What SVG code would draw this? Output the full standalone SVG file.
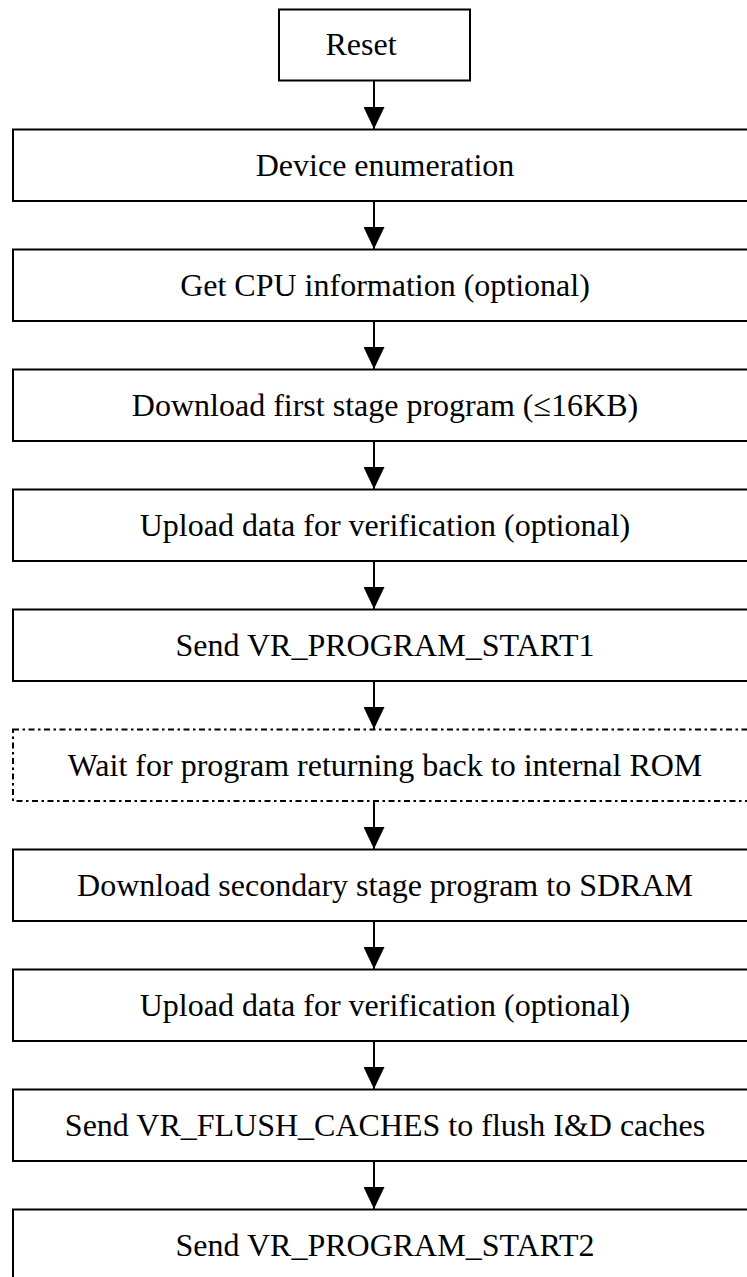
<svg xmlns="http://www.w3.org/2000/svg" width="747" height="1277" viewBox="0 0 747 1277">
<defs>
<style>
.box{fill:#fff;stroke:#000;stroke-width:2}
.dash{fill:#fff;stroke:#000;stroke-width:2;stroke-dasharray:6 3.5 2.5 3.5}
.t{font-family:"Liberation Serif","Times New Roman",serif;font-size:32px;fill:#000;text-anchor:middle}
.c{stroke:#000;stroke-width:2;fill:none}
</style>
<marker id="ah" viewBox="0 0 22 21" refX="22" refY="10.5" markerWidth="22" markerHeight="21" markerUnits="userSpaceOnUse" orient="auto">
<path d="M0,0 L22,10.5 L0,21 Z" fill="#000"/>
</marker>
</defs>
<rect width="747" height="1277" fill="#fff"/>
<g id="connectors">
<line class="c" x1="374" y1="81" x2="374" y2="129" marker-end="url(#ah)"/>
<line class="c" x1="374" y1="201" x2="374" y2="249" marker-end="url(#ah)"/>
<line class="c" x1="374" y1="321" x2="374" y2="369" marker-end="url(#ah)"/>
<line class="c" x1="374" y1="441" x2="374" y2="489" marker-end="url(#ah)"/>
<line class="c" x1="374" y1="561" x2="374" y2="609" marker-end="url(#ah)"/>
<line class="c" x1="374" y1="681" x2="374" y2="729" marker-end="url(#ah)"/>
<line class="c" x1="374" y1="801" x2="374" y2="849" marker-end="url(#ah)"/>
<line class="c" x1="374" y1="921" x2="374" y2="969" marker-end="url(#ah)"/>
<line class="c" x1="374" y1="1041" x2="374" y2="1089" marker-end="url(#ah)"/>
<line class="c" x1="374" y1="1161" x2="374" y2="1209" marker-end="url(#ah)"/>
</g>
<g id="n0"><rect class="box" x="279" y="9.5" width="191" height="71"/><text class="t" x="361" y="55">Reset</text></g>
<g id="n1"><rect class="box" x="13" y="129.5" width="744" height="71.5"/><text class="t" x="385" y="176">Device enumeration</text></g>
<g id="n2"><rect class="box" x="13" y="249.5" width="744" height="71.5"/><text class="t" x="385" y="296">Get CPU information (optional)</text></g>
<g id="n3"><rect class="box" x="13" y="369.5" width="744" height="71.5"/><text class="t" x="385" y="416">Download first stage program (≤16KB)</text></g>
<g id="n4"><rect class="box" x="13" y="489.5" width="744" height="71.5"/><text class="t" x="385" y="536">Upload data for verification (optional)</text></g>
<g id="n5"><rect class="box" x="13" y="609.5" width="744" height="71.5"/><text class="t" x="385" y="656">Send VR_PROGRAM_START1</text></g>
<g id="n6"><rect class="dash" x="13" y="729.5" width="744" height="71.5"/><text class="t" x="385" y="776">Wait for program returning back to internal ROM</text></g>
<g id="n7"><rect class="box" x="13" y="849.5" width="744" height="71.5"/><text class="t" x="385" y="896">Download secondary stage program to SDRAM</text></g>
<g id="n8"><rect class="box" x="13" y="969.5" width="744" height="71.5"/><text class="t" x="385" y="1016">Upload data for verification (optional)</text></g>
<g id="n9"><rect class="box" x="13" y="1089.5" width="744" height="71.5"/><text class="t" x="385" y="1136">Send VR_FLUSH_CACHES to flush I&amp;D caches</text></g>
<g id="n10"><rect class="box" x="13" y="1209.5" width="744" height="90"/><text class="t" x="385" y="1256">Send VR_PROGRAM_START2</text></g>
</svg>
